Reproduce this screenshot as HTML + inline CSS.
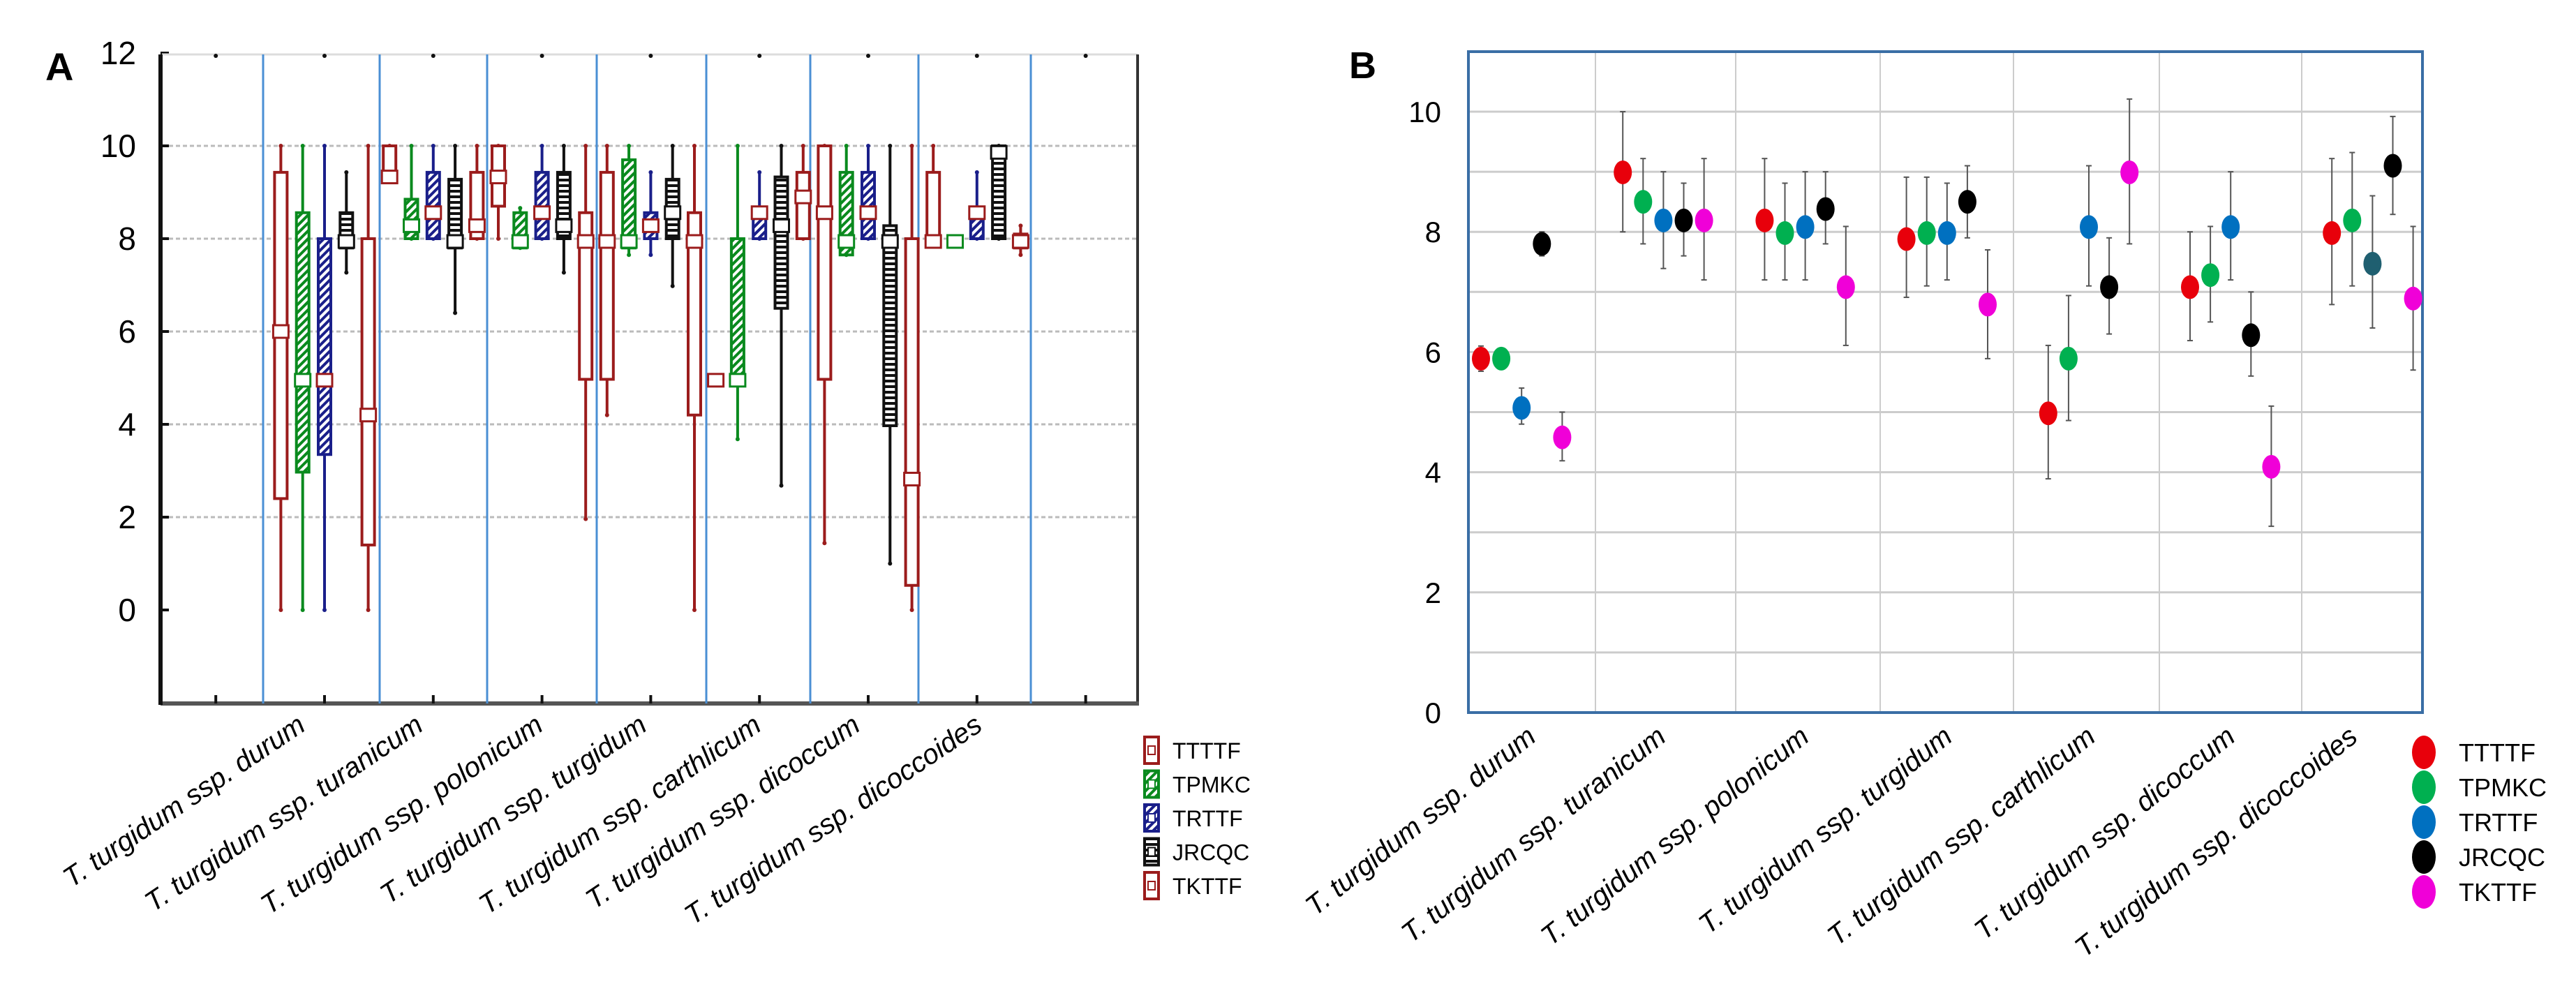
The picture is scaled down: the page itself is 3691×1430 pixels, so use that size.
<!DOCTYPE html>
<html><head><meta charset="utf-8"><style>
html,body{margin:0;padding:0;background:#fff;}
svg{display:block;}
text{font-family:"Liberation Sans",sans-serif;}
</style></head><body>
<svg id="fig" width="3691" height="1430" viewBox="0 0 3691 1430" xmlns="http://www.w3.org/2000/svg">
<defs>
<pattern id="hatchG" width="8" height="8" patternUnits="userSpaceOnUse" patternTransform="rotate(45)"><rect width="8" height="8" fill="#fff"/><rect width="4" height="8" fill="#0a8a1e"/></pattern>
<pattern id="hatchB" width="8" height="8" patternUnits="userSpaceOnUse" patternTransform="rotate(45)"><rect width="8" height="8" fill="#fff"/><rect width="4" height="8" fill="#1a1f8a"/></pattern>
<pattern id="stripK" width="8" height="8" patternUnits="userSpaceOnUse"><rect width="8" height="8" fill="#fff"/><rect width="8" height="4" fill="#111"/></pattern>
</defs>
<g id="panelA"></g>
<g id="panelB"></g>
</svg>
<script>
const categories = ["T. turgidum ssp. durum","T. turgidum ssp. turanicum","T. turgidum ssp. polonicum","T. turgidum ssp. turgidum","T. turgidum ssp. carthlicum","T. turgidum ssp. dicoccum","T. turgidum ssp. dicoccoides"];
const seriesNames = ["TTTTF","TPMKC","TRTTF","JRCQC","TKTTF"];
// Panel A box stats per category: [min, q1, median, q3, max]
const boxTTTTF = [[0,2.4,6.0,9.43,10],[9.23,9.23,9.33,10,10],[8,8.7,9.33,10,10],[4.2,4.97,7.94,9.43,10],[4.95,4.95,4.95,4.95,4.95],[1.44,4.97,8.56,10,10],[8,7.94,7.94,9.43,10]];
const boxTPMKC = [[0,2.97,4.95,8.56,10],[8,8,8.28,8.85,10],[7.8,7.8,7.94,8.56,8.66],[7.65,7.8,7.94,9.7,10],[3.68,4.95,4.95,8,10],[7.65,7.65,7.94,9.43,10],[7.94,7.94,7.94,7.94,7.94]];
const boxTRTTF = [[0,3.35,4.95,8,10],[8,8,8.56,9.43,10],[8,8,8.56,9.43,10],[7.65,8,8.28,8.56,9.43],[8,8,8.56,8.56,9.43],[8,8,8.56,9.43,10],[8,8,8.56,8.66,9.43]];
const boxJRCQC = [[7.27,7.8,7.94,8.56,9.43],[6.4,7.8,7.94,9.28,10],[7.27,8,8.28,9.43,10],[6.98,8,8.56,9.28,10],[2.68,6.5,8.28,9.33,10],[1.0,3.97,7.94,8.28,10],[8,8,9.86,10,10]];
const boxTKTTF = [[0,1.4,4.2,8,10],[8,8,8.28,9.43,10],[1.96,4.97,7.94,8.56,10],[0,4.2,7.94,8.56,10],[8,8,8.9,9.43,10],[0,0.53,2.82,8,10],[7.65,7.8,7.94,8.1,8.28]];
const yTicksA = [0,2,4,6,8,10,12];
// Panel B means and error bars
const meanTTTTF = [5.89,8.99,8.19,7.88,4.98,7.08,7.98];
const lowTTTTF  = [5.68,8.0,7.2,6.91,3.89,6.19,6.79];
const highTTTTF = [6.1,10.0,9.22,8.91,6.11,8.0,9.22];
const meanTPMKC = [5.89,8.5,7.98,7.98,5.89,7.28,8.19];
const lowTPMKC  = [5.89,7.8,7.2,7.1,4.86,6.5,7.1];
const highTPMKC = [5.89,9.22,8.81,8.91,6.94,8.09,9.32];
const meanTRTTF = [5.07,8.19,8.08,7.98,8.08,8.08,7.47];
const lowTRTTF  = [4.8,7.39,7.2,7.2,7.1,7.2,6.4];
const highTRTTF = [5.4,9.0,9.0,8.81,9.1,9.0,8.6];
const meanJRCQC = [7.8,8.19,8.38,8.5,7.08,6.28,9.1];
const lowJRCQC  = [7.6,7.6,7.8,7.9,6.3,5.6,8.29];
const highJRCQC = [8.0,8.81,9.0,9.1,7.9,7.0,9.92];
const meanTKTTF = [4.58,8.19,7.08,6.79,8.99,4.09,6.89];
const lowTKTTF  = [4.19,7.2,6.11,5.89,7.8,3.1,5.7];
const highTKTTF = [5.0,9.22,8.09,7.7,10.21,5.1,8.09];
const yTicksB = [0,2,4,6,8,10];

const NS="http://www.w3.org/2000/svg";
function mk(parent, tag, attrs, txt){const e=document.createElementNS(NS,tag);for(const k in attrs)e.setAttribute(k,attrs[k]);if(txt!==undefined)e.textContent=txt;parent.appendChild(e);return e;}

/* ---------- Panel A ---------- */
const A=document.getElementById('panelA');
const yA=v=>874-66.5*v;
const xA=i=>465+155.8*i;
const labelShiftA=[-25,-12,4,-3,5,-9,10];
const boxes=[boxTTTTF,boxTPMKC,boxTRTTF,boxJRCQC,boxTKTTF];
const strokeA=["#9b1c1c","#0a8a1e","#1a1f8a","#111","#9b1c1c"];
const fillA=["#fff","url(#hatchG)","url(#hatchB)","url(#stripK)","#fff"];
let t=mk(A,'text',{x:65,y:115,'font-size':56,'font-weight':'bold'},'A');


yTicksA.forEach(v=>{
  if(v>0&&v<12){const g=mk(A,'line',{x1:232,x2:1628,y1:yA(v),y2:yA(v),stroke:'#bbb','stroke-width':3,'stroke-dasharray':'6 4'});
  
  }
  mk(A,'line',{x1:230,x2:242,y1:yA(v),y2:yA(v),stroke:'#111','stroke-width':4});
  const l=mk(A,'text',{x:195,y:yA(v)+16,'font-size':46,'text-anchor':'end'},v);
  
  
});
mk(A,'line',{x1:232,x2:1630,y1:78,y2:78,stroke:'#ddd','stroke-width':3});
mk(A,'line',{x1:1630,x2:1630,y1:78,y2:1008,stroke:'#333','stroke-width':4});
mk(A,'line',{x1:230,x2:1632,y1:1008,y2:1008,stroke:'#555','stroke-width':6});
const yax=mk(A,'line',{x1:230,x2:230,y1:78,y2:1010,stroke:'#111','stroke-width':6});


[-1,0,1,2,3,4,5,6,7].forEach(i=>{mk(A,'line',{x1:xA(i),x2:xA(i),y1:1008,y2:996,stroke:'#111','stroke-width':4});mk(A,'circle',{cx:xA(i),cy:80,r:3,fill:'#111'});});
[377,544,698,855,1012,1161,1316,1477].forEach(x=>{const s=mk(A,'line',{x1:x,x2:x,y1:78,y2:1008,stroke:'#4a8fd4','stroke-width':3});
  
  });
boxes.forEach((arr,s)=>{
  arr.forEach((d,i)=>{
    const cx=xA(i)+(s-2)*31.3;
    const g=mk(A,'g',{});
    
    
    const [mn,q1,md,q3,mx]=d;
    mk(g,'line',{x1:cx,x2:cx,y1:yA(mx),y2:yA(mn),stroke:strokeA[s],'stroke-width':4});
    mk(g,'circle',{cx:cx,cy:yA(mx),r:3,fill:strokeA[s]});
    mk(g,'circle',{cx:cx,cy:yA(mn),r:3,fill:strokeA[s]});
    const lo=Math.min(q1,q3),hi=Math.max(q1,q3);
    if(hi-lo>0.01) mk(g,'rect',{x:cx-9,y:yA(hi),width:18,height:yA(lo)-yA(hi),fill:fillA[s],stroke:strokeA[s],'stroke-width':4});
    mk(g,'rect',{x:cx-11,y:yA(md)-9,width:22,height:18,fill:'#fff',stroke:s===1?'#0a8a1e':(s===3?'#111':'#9b1c1c'),'stroke-width':3});
  });
});
categories.forEach((c,i)=>{
  const x=xA(i)+labelShiftA[i],y=1045;
  const l=mk(A,'text',{x:x,y:y,'font-size':40,'font-style':'italic','text-anchor':'end',transform:`rotate(-34 ${x} ${y})`},c);
  
  
});
seriesNames.forEach((n,s)=>{
  const y=1075+48.5*s;
  const g=mk(A,'g',{});
  
  
  mk(g,'rect',{x:1640,y:y-19,width:20,height:38,fill:fillA[s],stroke:strokeA[s],'stroke-width':4});
  mk(g,'rect',{x:1645,y:y-6,width:10,height:12,fill:'#fff',stroke:strokeA[s],'stroke-width':2});
  mk(g,'text',{x:1680,y:y+12,'font-size':32},n);
});

/* ---------- Panel B ---------- */
const B=document.getElementById('panelB');
const yB=v=>1021-86.1*v;
const xB=(i,s)=>2122+203.2*i+29.1*s;
const labelShiftB=[23,6,8,10,12,9,-19];
const colB=["#e8000b","#00b050","#0070c0","#000","#f000d8"];
const means=[meanTTTTF,meanTPMKC,meanTRTTF,meanJRCQC,meanTKTTF];
const lows=[lowTTTTF,lowTPMKC,lowTRTTF,lowJRCQC,lowTKTTF];
const highs=[highTTTTF,highTPMKC,highTRTTF,highJRCQC,highTKTTF];
t=mk(B,'text',{x:1933,y:112,'font-size':54,'font-weight':'bold'},'B');


for(let v=1;v<=10;v++){const g=mk(B,'line',{x1:2104,x2:3471,y1:yB(v),y2:yB(v),stroke:'#ccc','stroke-width':3});
  
  }
[2286,2487,2694,2885,3094,3298].forEach(x=>mk(B,'line',{x1:x,x2:x,y1:74,y2:1021,stroke:'#ccc','stroke-width':2}));
const fr=mk(B,'rect',{x:2104,y:74,width:1367,height:947,fill:'none',stroke:'#3a6ea5','stroke-width':4});


yTicksB.forEach(v=>{const l=mk(B,'text',{x:2065,y:yB(v)+15,'font-size':42,'text-anchor':'end',style:'font-family:"Liberation Sans Narrow","Liberation Sans",sans-serif'},v);
  
  });
means.forEach((arr,s)=>{
  arr.forEach((m,i)=>{
    const cx=xB(i,s);
    const g=mk(B,'g',{});
    
    
    mk(g,'line',{x1:cx,x2:cx,y1:yB(highs[s][i]),y2:yB(lows[s][i]),stroke:'#555','stroke-width':2});
    mk(g,'line',{x1:cx-4,x2:cx+4,y1:yB(highs[s][i]),y2:yB(highs[s][i]),stroke:'#555','stroke-width':2});
    mk(g,'line',{x1:cx-4,x2:cx+4,y1:yB(lows[s][i]),y2:yB(lows[s][i]),stroke:'#555','stroke-width':2});
    const c=(s===2&&i===6)?'#1f5f70':colB[s];
    mk(g,'ellipse',{cx:cx,cy:yB(m),rx:13,ry:17,fill:c});
  });
});
categories.forEach((c,i)=>{
  const x=xB(i,2)+labelShiftB[i],y=1060;
  const l=mk(B,'text',{x:x,y:y,'font-size':40,'font-style':'italic','text-anchor':'end',transform:`rotate(-38.5 ${x} ${y})`},c);
  
  
});
seriesNames.forEach((n,s)=>{
  const y=1078+50*s;
  const g=mk(B,'g',{});
  
  
  mk(g,'ellipse',{cx:3473,cy:y,rx:17,ry:24,fill:colB[s]});
  mk(g,'text',{x:3523,y:y+13,'font-size':36,style:'font-family:"Liberation Sans Narrow","Liberation Sans",sans-serif'},n);
});
</script>
</body></html>
